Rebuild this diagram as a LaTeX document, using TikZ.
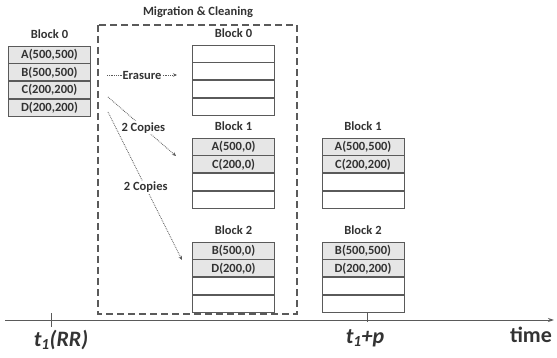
\documentclass[tikz,border=0pt]{standalone}
\usepackage{fontspec}
\setmainfont{Carlito}
\usepackage{tikz}
\usepackage{xcolor}
\usetikzlibrary{positioning,arrows.meta}

\definecolor{linegray}{HTML}{5A5A5A}
\definecolor{cellgray}{HTML}{E6E6E6}
\definecolor{textgray}{HTML}{333333}

\tikzset{
  cell/.style={draw=linegray, line width=0.9pt, minimum width=82pt, minimum height=17pt,
    inner sep=0pt, font=\fontsize{12.5}{14}\selectfont\bfseries, text=textgray},
  datacell/.style={cell, fill=cellgray},
  blocklabel/.style={font=\fontsize{12.5}{14}\selectfont\bfseries, text=textgray, above=3pt},
  move/.style={densely dotted, line width=0.8pt, draw=linegray, -{Stealth[length=4pt,width=3.5pt]}},
  movelabel/.style={fill=white, inner sep=1pt, font=\fontsize{12.5}{14}\selectfont\bfseries, text=textgray},
  timelabel/.style={font=\fontsize{22}{24}\selectfont\bfseries\itshape, text=textgray}
}

\begin{document}
\begin{tikzpicture}[x=1pt, y=-1pt]
\useasboundingbox (0,0) rectangle (557,358);
% Block 0 before the migration
\node[datacell] (la) at (49.5,54.5) {A(500,500)};
\node[datacell, below=0pt of la] (lb) {B(500,500)};
\node[datacell, below=0pt of lb] (lc) {C(200,200)};
\node[datacell, below=0pt of lc] (ld) {D(200,200)};
\node[blocklabel] at (la.north) {Block 0};
% Migration & Cleaning area
\draw[linegray, line width=1.2pt, dash pattern=on 7pt off 4pt] (98,25) rectangle (297,314);
\node[font=\fontsize{12.5}{14}\selectfont\bfseries, text=textgray] (mc) at (198,12) {Migration \& Cleaning};
% Erased block 0
\node[cell] (ma) at (233.5,53.5) {};
\node[cell, below=0pt of ma] (mb) {};
\node[cell, below=0pt of mb] (mc0) {};
\node[cell, below=0pt of mc0] (md) {};
\node[blocklabel] at (ma.north) {Block 0};
% Block 1 with the copies
\node[datacell] (na) at (233.5,146.5) {A(500,0)};
\node[datacell, below=0pt of na] (nc) {C(200,0)};
\node[cell, below=0pt of nc] (n3) {};
\node[cell, below=0pt of n3] (n4) {};
\node[blocklabel] at (na.north) {Block 1};
% Block 2 with the copies
\node[datacell] (ob) at (233.5,250.5) {B(500,0)};
\node[datacell, below=0pt of ob] (od) {D(200,0)};
\node[cell, below=0pt of od] (o3) {};
\node[cell, below=0pt of o3] (o4) {};
\node[blocklabel] at (ob.north) {Block 2};
% Block 1 after p
\node[datacell] (pa) at (363,146.5) {A(500,500)};
\node[datacell, below=0pt of pa] (pc) {C(200,200)};
\node[cell, below=0pt of pc] (p3) {};
\node[cell, below=0pt of p3] (p4) {};
\node[blocklabel] at (pa.north) {Block 1};
% Block 2 after p
\node[datacell] (qb) at (363,250.5) {B(500,500)};
\node[datacell, below=0pt of qb] (qd) {D(200,200)};
\node[cell, below=0pt of qd] (q3) {};
\node[cell, below=0pt of q3] (q4) {};
\node[blocklabel] at (qb.north) {Block 2};
% Arrows
\coordinate (erasefrom) at (107,75);
\coordinate (eraseto) at (177,75);
\coordinate (copyfrom1) at (108,97);
\coordinate (copyto1) at (176,156);
\coordinate (copyfrom2) at (108,112);
\coordinate (copyto2) at (182,260);
\draw[move] (erasefrom) -- node[movelabel] {Erasure} (eraseto);
\draw[move] (copyfrom1) -- node[movelabel, pos=0.52] {2 Copies} (copyto1);
\draw[move] (copyfrom2) -- node[movelabel, pos=0.51] {2 Copies} (copyto2);
% Time axis
\coordinate (axisstart) at (5,320);
\coordinate (axisend) at (554,320);
\draw[linegray, line width=1pt, -{Stealth[length=6pt,width=4pt]}] (axisstart) -- (axisend);
\draw[linegray, line width=1pt] (51,313) -- (51,327);
\draw[linegray, line width=1pt] (367,312) -- (367,322);
\node[timelabel] (trr) at (61,340) {t\textsubscript{1}(RR)};
\node[timelabel] (tp) at (365,338) {t\textsubscript{1}+p};
\node[font=\fontsize{22}{24}\selectfont\bfseries, text=textgray] (time) at (531,335) {time};
\end{tikzpicture}
\end{document}
